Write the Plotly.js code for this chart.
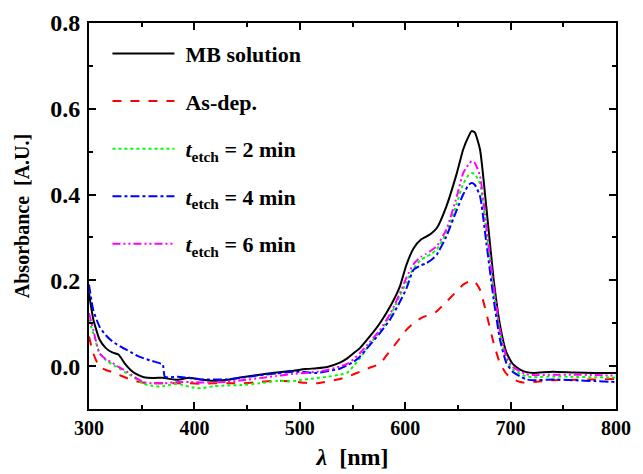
<!DOCTYPE html>
<html>
<head>
<meta charset="utf-8">
<script src="https://cdn.plot.ly/plotly-3.0.1.min.js"></script>
<style>html,body{margin:0;padding:0;background:#fff;}#chart{width:643px;height:474px;}</style>
</head>
<body>
<div id="chart"></div>
<script>
const wavelength = [300,304,310,316,322,328,334,340,346,352,360,368,370,372,384,395,406,418,431,445,462,478,494,505,516,526,538,545,551,557,566,576,586,595,601,608,615,620,625,630,639,649,655,660,663,666,671,677,684,690,696,702,709,715,722,740,760,780,800];

const mbSolution = [0.17,0.11,0.062,0.042,0.032,0.027,0.006,-0.01,-0.02,-0.026,-0.028,-0.027,-0.027,-0.028,-0.032,-0.027,-0.031,-0.034,-0.032,-0.026,-0.02,-0.015,-0.011,-0.007,-0.005,-0.002,0.008,0.018,0.03,0.042,0.068,0.10,0.14,0.186,0.235,0.275,0.295,0.302,0.31,0.322,0.372,0.45,0.505,0.535,0.548,0.545,0.505,0.37,0.2,0.095,0.032,0.005,-0.008,-0.014,-0.016,-0.013,-0.015,-0.016,-0.016];

const asDep = [0.069,0.03,-0.002,-0.009,-0.014,-0.02,-0.026,-0.032,-0.036,-0.039,-0.04,-0.04,-0.04,-0.04,-0.04,-0.04,-0.041,-0.04,-0.04,-0.04,-0.037,-0.034,-0.036,-0.039,-0.04,-0.036,-0.03,-0.025,-0.019,-0.013,-0.004,0.006,0.037,0.065,0.084,0.1,0.112,0.117,0.121,0.128,0.15,0.175,0.19,0.197,0.199,0.197,0.178,0.123,0.053,0.006,-0.018,-0.03,-0.037,-0.039,-0.037,-0.033,-0.032,-0.031,-0.03];

const etch2 = [0.108,0.077,0.03,0.014,0.004,-0.004,-0.014,-0.022,-0.032,-0.041,-0.046,-0.048,-0.047,-0.046,-0.041,-0.048,-0.052,-0.047,-0.045,-0.044,-0.04,-0.035,-0.035,-0.031,-0.028,-0.025,-0.02,-0.015,0.0,0.018,0.05,0.08,0.118,0.165,0.195,0.228,0.248,0.255,0.262,0.272,0.31,0.38,0.425,0.445,0.45,0.448,0.425,0.315,0.175,0.075,0.015,-0.008,-0.018,-0.024,-0.026,-0.024,-0.025,-0.026,-0.027];

const etch4 = [0.19,0.131,0.092,0.072,0.058,0.048,0.04,0.032,0.024,0.018,0.012,0.006,0.005,-0.025,-0.025,-0.028,-0.031,-0.031,-0.031,-0.027,-0.021,-0.017,-0.013,-0.014,-0.016,-0.012,-0.006,0.002,0.01,0.022,0.048,0.077,0.11,0.15,0.18,0.225,0.235,0.24,0.248,0.26,0.302,0.365,0.4,0.422,0.427,0.423,0.396,0.287,0.154,0.061,0.007,-0.013,-0.024,-0.031,-0.033,-0.031,-0.033,-0.035,-0.037];

const etch6 = [0.123,0.085,0.03,0.016,0.008,-0.002,-0.01,-0.02,-0.03,-0.037,-0.04,-0.04,-0.04,-0.04,-0.037,-0.037,-0.038,-0.038,-0.037,-0.033,-0.028,-0.023,-0.018,-0.016,-0.013,-0.009,-0.001,0.005,0.016,0.03,0.055,0.084,0.123,0.17,0.205,0.238,0.255,0.262,0.27,0.28,0.318,0.396,0.45,0.47,0.478,0.474,0.443,0.326,0.186,0.084,0.022,-0.002,-0.012,-0.019,-0.021,-0.02,-0.02,-0.021,-0.022];

const seriesNames = ['MB solution','As-dep.','<i>t</i><sub>etch</sub> = 2 min','<i>t</i><sub>etch</sub> = 4 min','<i>t</i><sub>etch</sub> = 6 min'];
const seriesValues = [mbSolution, asDep, etch2, etch4, etch6];
const seriesColors = ['#000000','#ff0000','#00ff00','#0000ff','#ff00ff'];
const seriesDash = ['solid','dash','dot','dashdot','8px,3px,2px,3px,2px,3px'];

const traces = seriesValues.map((v,i)=>({
  x: wavelength, y: v, type:'scatter', mode:'lines', name: seriesNames[i],
  legendgroup: 'g'+i,
  line:{color:seriesColors[i], width:2, dash:seriesDash[i], shape:'spline', smoothing:0.5}
}));

const fontFam = '"Liberation Serif","Times New Roman",serif';
const axisCommon = {
  showline:true, linecolor:'#000', linewidth:2, mirror:'allticks',
  ticks:'inside', ticklen:7, tickwidth:2, tickcolor:'#000',
  showgrid:false, zeroline:false
};

const layout = {
  width:643, height:474,
  margin:{l:89, r:27, t:23, b:65},
  paper_bgcolor:'#fff', plot_bgcolor:'#fff',
  showlegend:true,
  legend:{x:0.035, y:0.975, xanchor:'left', yanchor:'top', bgcolor:'rgba(0,0,0,0)',
    font:{family:fontFam, size:22, color:'#000', weight:'bold'},
    traceorder:'grouped', tracegroupgap:16, itemwidth:68},
  xaxis: Object.assign({}, axisCommon, {
    range:[300,800], tick0:300, dtick:100,
    tickfont:{family:fontFam, size:20, color:'#000', weight:'bold'},
    minor:{dtick:50, ticks:'inside', ticklen:4, tickwidth:2, tickcolor:'#000'},
    title:{text:'<i>λ</i>  [nm]', font:{family:fontFam, size:24, color:'#000', weight:'bold'}, standoff:10}
  }),
  yaxis: Object.assign({}, axisCommon, {
    range:[-0.1,0.8], tick0:0, dtick:0.2, tickformat:'.1f',
    tickfont:{family:fontFam, size:24, color:'#000', weight:'bold'},
    ticklabelstandoff:2,
    minor:{dtick:0.1, ticks:'inside', ticklen:4, tickwidth:2, tickcolor:'#000'},
    title:{text:'Absorbance  [A.U.]', font:{family:fontFam, size:20, color:'#000', weight:'bold'}, standoff:15}
  })
};

Plotly.newPlot('chart', traces, layout, {displayModeBar:false, staticPlot:true}).then(gd=>{
  // lengthen legend line samples to match the reference
  gd.querySelectorAll('.legend .traces .legendlines path').forEach(p=>p.setAttribute('d','M5,0h62'));
});
</script>
</body>
</html>
